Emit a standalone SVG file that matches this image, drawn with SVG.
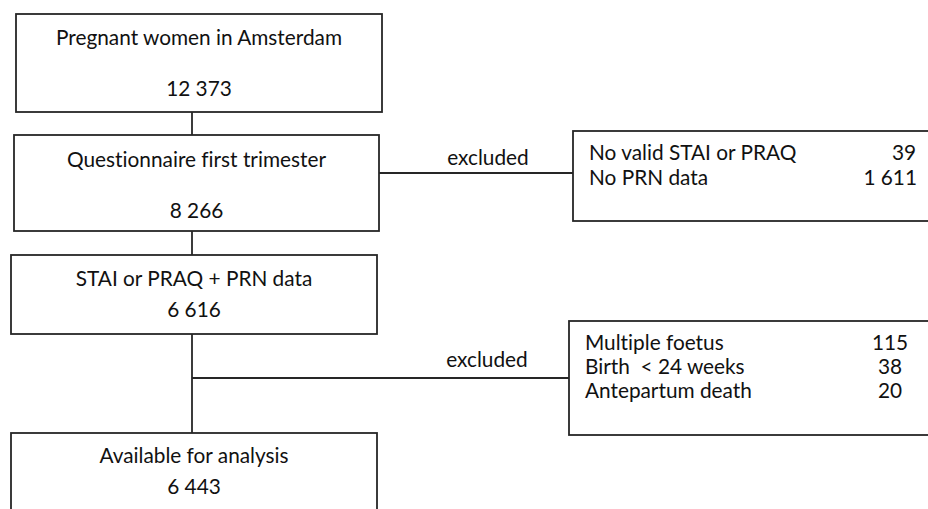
<svg xmlns="http://www.w3.org/2000/svg" width="928" height="509" viewBox="0 0 928 509">
<style>
.box{fill:#fff;stroke:#262626;stroke-width:1.8}
.ln{fill:none;stroke:#262626;stroke-width:1.8}
text{font-family:Lato,"Open Sans","Liberation Sans",sans-serif;font-size:20.8px;fill:#111;font-variant-ligatures:none}
.c{text-anchor:middle}
.r{text-anchor:end}
</style>
<rect width="928" height="509" fill="#fff"/>
<g id="connectors">
<line class="ln" x1="192" y1="112" x2="192" y2="135"/>
<line class="ln" x1="192" y1="231" x2="192" y2="255"/>
<line class="ln" x1="192" y1="334" x2="192" y2="433"/>
<line class="ln" x1="379" y1="173" x2="573" y2="173"/>
<line class="ln" x1="192" y1="378" x2="569" y2="378"/>
<text class="c" x="488" y="165">excluded</text>
<text class="c" x="487" y="367">excluded</text>
</g>
<g id="n1">
<rect class="box" x="16" y="14" width="366" height="98"/>
<text class="c" x="199" y="45">Pregnant women in Amsterdam</text>
<text class="c" x="199" y="96">12 373</text>
</g>
<g id="n2">
<rect class="box" x="14" y="135" width="365" height="96"/>
<text class="c" x="196.5" y="167">Questionnaire first trimester</text>
<text class="c" x="196.5" y="218">8 266</text>
</g>
<g id="n3">
<rect class="box" x="11" y="255" width="366" height="79"/>
<text class="c" x="194" y="286">STAI or PRAQ + PRN data</text>
<text class="c" x="194" y="317">6 616</text>
</g>
<g id="n4">
<rect class="box" x="11" y="433" width="366" height="82"/>
<text class="c" x="194" y="463">Available for analysis</text>
<text class="c" x="194" y="494">6 443</text>
</g>
<g id="ex1">
<rect class="box" x="573" y="131" width="356" height="90"/>
<text x="589" y="160">No valid STAI or PRAQ</text>
<text x="589" y="185">No PRN data</text>
<text class="r" x="916" y="160">39</text>
<text class="r" x="917" y="185">1 611</text>
</g>
<g id="ex2">
<rect class="box" x="569" y="321" width="360" height="114"/>
<text x="585" y="350">Multiple foetus</text>
<text x="585" y="374" style="white-space:pre">Birth  &lt; 24 weeks</text>
<text x="585" y="398">Antepartum death</text>
<text class="c" x="890" y="350">115</text>
<text class="c" x="890" y="374">38</text>
<text class="c" x="890" y="398">20</text>
</g>
</svg>
